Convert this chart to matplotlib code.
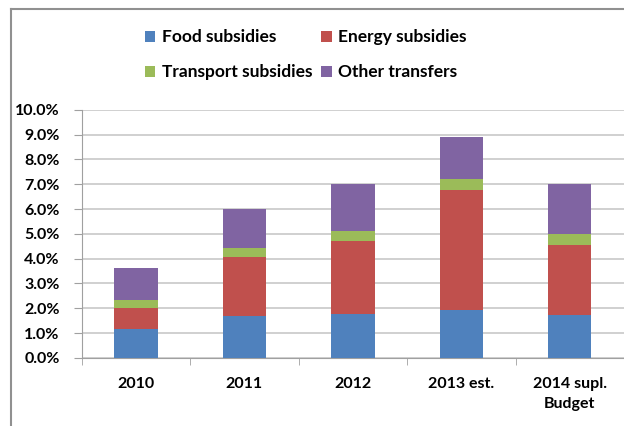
import numpy as np
import matplotlib.pyplot as plt
from matplotlib.lines import Line2D
from matplotlib.ticker import FuncFormatter

plt.rcParams['font.family'] = ['Lato', 'DejaVu Sans']
plt.rcParams['font.weight'] = 'bold'

categories = ['2010', '2011', '2012', '2013 est.', '2014 supl.\nBudget']
food = [1.15, 1.70, 1.75, 1.92, 1.72]
energy = [0.85, 2.38, 2.95, 4.85, 2.85]
transport = [0.34, 0.37, 0.40, 0.43, 0.43]
other = [1.30, 1.55, 1.90, 1.70, 2.00]

series = [
    ('Food subsidies', food, '#4f81bd'),
    ('Energy subsidies', energy, '#c0504d'),
    ('Transport subsidies', transport, '#9bbb59'),
    ('Other transfers', other, '#8064a2'),
]

fig = plt.figure(figsize=(6.24, 4.26), dpi=100)
ax = fig.add_axes([0.131, 0.16, 0.869, 0.582])

x = np.arange(len(categories))
bottom = np.zeros(len(categories))
handles = []
for name, vals, col in series:
    b = ax.bar(x, vals, 0.4, bottom=bottom, color=col, label=name, zorder=3)
    bottom += np.array(vals)
    handles.append(b)

ax.set_xlim(-0.5, len(categories) - 0.5)
ax.set_ylim(0, 10)
ax.set_yticks(np.arange(0, 10.01, 1))
ax.yaxis.set_major_formatter(FuncFormatter(lambda v, p: f'{v:.1f}%'))
ax.set_xticks(x)
ax.set_xticklabels(categories, fontsize=11.5, fontweight='bold', linespacing=1.5)
ax.set_xticks(np.arange(-0.5, len(categories), 1), minor=True)
ax.tick_params(axis='x', which='major', length=0, pad=14)
ax.tick_params(axis='x', which='minor', length=5, color='#a0a0a0', direction='out')
ax.tick_params(axis='y', length=6, color='#a0a0a0', labelsize=11.5, pad=10)
for lab in ax.get_yticklabels():
    lab.set_fontweight('bold')

ax.grid(axis='y', color='#c8c8c8', linewidth=1.2, zorder=0)
for s in ['top', 'right']:
    ax.spines[s].set_visible(False)
ax.spines['left'].set_color('#a0a0a0')
ax.spines['bottom'].set_color('#a0a0a0')

# legend fills row by row in the original
order = [0, 2, 1, 3]
fig.legend(handles=[handles[i] for i in order], loc='upper center',
           bbox_to_anchor=(0.49, 0.968), ncol=2,
           frameon=False, fontsize=12.5, handlelength=0.6, handleheight=0.6,
           handletextpad=0.4, columnspacing=0.5, labelspacing=1.1)

# outer frame of the original image
fig.add_artist(Line2D([11 / 624, 11 / 624], [0, 1 - 9 / 426], color='#909090', lw=1.5))
fig.add_artist(Line2D([11 / 624, 1], [1 - 9 / 426, 1 - 9 / 426], color='#909090', lw=1.5))

fig.savefig('out.png', dpi=100)
